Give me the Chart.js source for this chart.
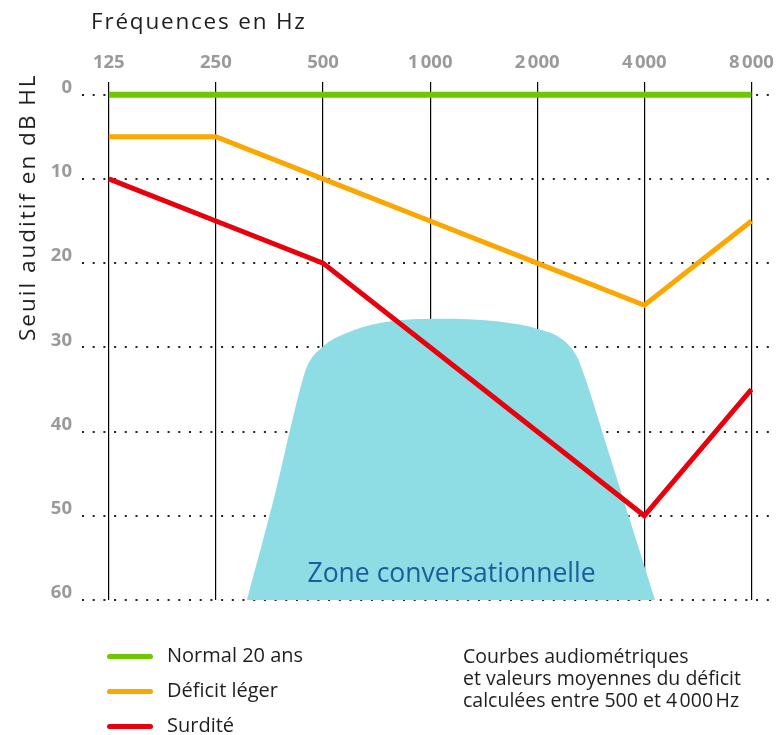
<!DOCTYPE html>
<html lang="fr">
<head>
<meta charset="utf-8">
<script src="https://cdn.jsdelivr.net/npm/chart.js@4/dist/chart.umd.min.js"></script>
<style>
  body { margin: 0; background: #fff; font-family: "Open Sans", sans-serif; color: #1e1e1e; }
  #wrap { position: relative; width: 778px; height: 735px; }
  #graph { position: absolute; left: 0; top: 0; }
  .titre { position: absolute; font-size: 22.5px; white-space: nowrap; line-height: 24px; letter-spacing: 1.8px; }
  #titreX { left: 91px; top: 9px; }
  #titreY { left: 15px; top: 341px; transform-origin: 0 0; transform: rotate(-90deg); letter-spacing: 2px; }
  #legende { position: absolute; left: 107px; top: 641px; font-size: 20px; }
  .item { height: 35px; display: flex; align-items: flex-start; line-height: 27px; }
  .trait { width: 46px; height: 5px; border-radius: 3px; margin-top: 12.5px; margin-right: 14px; }
  #note { position: absolute; left: 463px; top: 645px; font-size: 19.5px; line-height: 22px; }
</style>
</head>
<body>
<div id="wrap">
  <canvas id="graph" width="778" height="735"></canvas>
  <div class="titre" id="titreX">Fréquences en Hz</div>
  <div class="titre" id="titreY">Seuil auditif en dB HL</div>
  <div id="legende"></div>
  <div id="note">Courbes audiométriques<br>et valeurs moyennes du déficit<br>calculées entre 500 et 4&#8239;000&#8239;Hz</div>
</div>
<script>
// donnees
const frequences = ["125", "250", "500", "1\u202f000", "2\u202f000", "4\u202f000", "8\u202f000"];
const seuilsY = [0, 10, 20, 30, 40, 50, 60];
const nomsSeries = ["Normal 20 ans", "Déficit léger", "Surdité"];
const couleurs = ["#70c700", "#fca600", "#e8000d"];
const normal20 = [0, 0, 0, 0, 0, 0, 0];
const deficitLeger = [5, 5, 10, 15, 20, 25, 15];
const surdite = [10, 15, 20, 30, 40, 50, 35];
// contour de la zone conversationnelle (index de frequence, dB)
const zoneX = [1.29, 1.55, 1.785, 1.85, 2.0, 2.22, 2.53, 3.09, 3.62, 4.03, 4.24, 4.37, 4.43, 4.68, 5.1];
const zoneY = [60, 47.5, 35, 32.3, 29.9, 28.3, 27.1, 26.6, 26.9, 27.9, 29.1, 31.1, 33.0, 43.0, 60];

const series = [normal20, deficitLeger, surdite];
const epaisseurs = [6, 5, 5];

const datasets = series.map((valeurs, i) => {
  return {
    label: nomsSeries[i],
    data: valeurs.map((v, j) => ({ x: j, y: v })),
    borderColor: couleurs[i],
    borderWidth: epaisseurs[i],
    pointRadius: 0,
    fill: false,
    tension: 0,
    order: 1,
  };
});
datasets.push({
  label: "Zone conversationnelle",
  data: zoneX.map((x, i) => ({ x: x, y: zoneY[i] })),
  borderWidth: 0,
  borderColor: "rgba(0,0,0,0)",
  backgroundColor: "#8fdde4",
  pointRadius: 0,
  fill: { value: 60 },
  cubicInterpolationMode: "monotone",
  order: 5,
});

// texte dans la zone
const texteZone = {
  id: "texteZone",
  afterDatasetsDraw(chart) {
    const ctx = chart.ctx;
    const x = chart.scales.x.getPixelForValue(3.2);
    const y = chart.scales.y.getPixelForValue(57);
    ctx.save();
    ctx.font = '26.5px "Open Sans"';
    ctx.fillStyle = "#1d5c9b";
    ctx.textAlign = "center";
    ctx.textBaseline = "middle";
    ctx.fillText("Zone conversationnelle", x, y);
    ctx.restore();
  },
};

function sansMarge(axis) {
  axis.paddingLeft = 0;
  axis.paddingRight = 0;
  axis.paddingTop = 0;
  axis.paddingBottom = 0;
}

const configuration = {
  type: "line",
  data: { datasets: datasets },
  options: {
    responsive: false,
    animation: false,
    layout: { padding: { left: 0, top: 0, right: 3, bottom: 135 } },
    plugins: { legend: { display: false }, tooltip: { enabled: false } },
    scales: {
      x: {
        type: "linear",
        position: "top",
        min: -0.25,
        max: 6.22,
        z: 1,
        afterBuildTicks: (axis) => {
          axis.ticks = frequences.map((f, i) => ({ value: i }));
        },
        afterFit: (axis) => { axis.height = 82; sansMarge(axis); },
        ticks: {
          callback: (v) => frequences[v],
          font: { family: "Open Sans", size: 18.5, weight: "bold" },
          color: "#9a9a9a",
          padding: 8,
          maxRotation: 0,
        },
        grid: { color: "#000", lineWidth: 1.2, drawTicks: false },
        border: { display: false },
      },
      y: {
        type: "linear",
        reverse: true,
        min: -1.5,
        max: 60,
        z: 1,
        afterBuildTicks: (axis) => {
          axis.ticks = seuilsY.map((v) => ({ value: v }));
        },
        afterFit: (axis) => { axis.width = 82; sansMarge(axis); },
        ticks: {
          font: { family: "Open Sans", size: 18.5, weight: "bold" },
          color: "#9a9a9a",
          padding: 10,
          labelOffset: -7,
        },
        grid: {
          color: "#222",
          lineWidth: 2,
          drawTicks: false,
        },
        border: { display: false, dash: [2, 8.7] },
      },
    },
  },
  plugins: [texteZone],
};

const graphique = document.getElementById("graph");
const chart = new Chart(graphique, configuration);

// legende
const legende = document.getElementById("legende");
for (var i = 0; i < nomsSeries.length; i++) {
  const item = document.createElement("div");
  item.className = "item";
  item.innerHTML = '<span class="trait" style="background:' + couleurs[i] + '"></span>' + nomsSeries[i];
  legende.appendChild(item);
}
</script>
</body>
</html>
